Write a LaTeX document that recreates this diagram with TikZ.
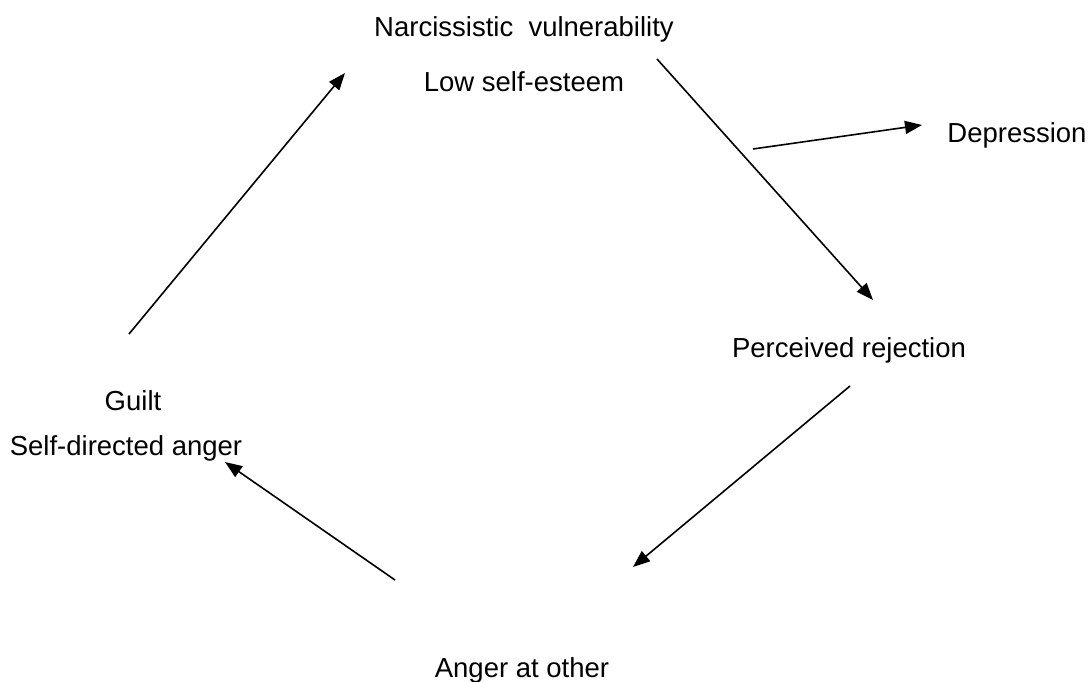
\documentclass[tikz,border=0pt]{standalone}
\usepackage{fontspec}
\setmainfont{Liberation Sans}
\usetikzlibrary{arrows.meta}
\begin{document}
\begin{tikzpicture}[x=1pt,y=-1pt,
  lbl/.style={anchor=base,inner sep=0pt,font=\fontsize{27.5}{33}\selectfont},
  arr/.style={line width=1.6pt,-{Triangle[length=17pt,width=13pt]}}]
\useasboundingbox (0,0) rectangle (1090,682);
\node[lbl] (narc) at (524,37) {Narcissistic\ \ vulnerability};
\node[lbl] (low) at (524,92) {Low self-esteem};
\node[lbl] (dep) at (1017,143) {Depression};
\node[lbl] (perc) at (849,357) {Perceived rejection};
\node[lbl] (guilt) at (133,410) {Guilt};
\node[lbl] (self) at (126,455) {Self-directed anger};
\node[lbl] (other) at (522,677) {Anger at other};
\coordinate (a1s) at (129,334);
\coordinate (a1e) at (345,73);
\coordinate (a2s) at (657,59);
\coordinate (a2e) at (873,300);
\coordinate (a3s) at (753,149);
\coordinate (a3e) at (922,125);
\coordinate (a4s) at (850,386);
\coordinate (a4e) at (633,567);
\coordinate (a5s) at (395,580);
\coordinate (a5e) at (225,462);
\draw[arr] (a1s) -- (a1e);
\draw[arr] (a2s) -- (a2e);
\draw[arr] (a3s) -- (a3e);
\draw[arr] (a4s) -- (a4e);
\draw[arr] (a5s) -- (a5e);
\end{tikzpicture}
\end{document}
